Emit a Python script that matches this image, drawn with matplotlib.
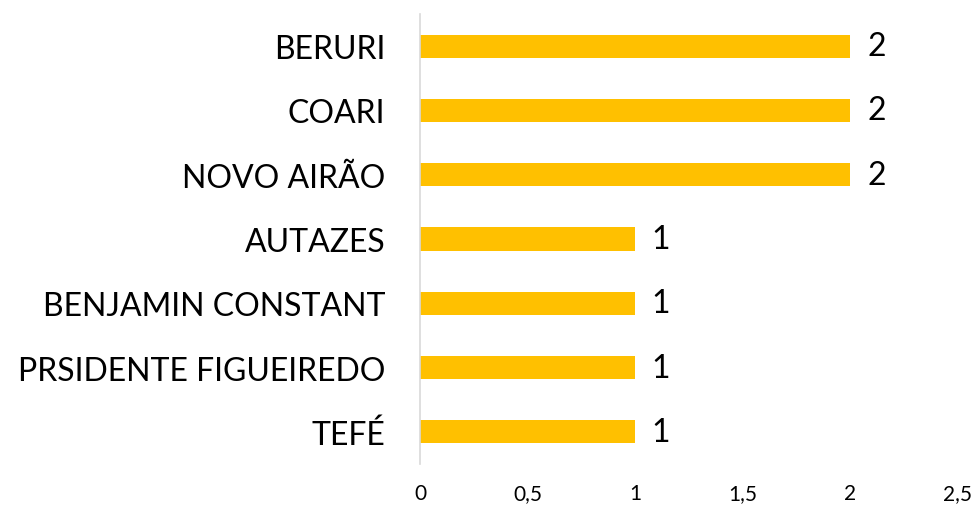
import matplotlib
matplotlib.use('Agg')
import matplotlib.pyplot as plt

# data (top to bottom)
cities = ['BERURI', 'COARI', 'NOVO AIRÃO', 'AUTAZES', 'BENJAMIN CONSTANT',
          'PRSIDENTE FIGUEIREDO', 'TEFÉ']
counts = [2, 2, 2, 1, 1, 1, 1]
xticks = [0, 0.5, 1, 1.5, 2, 2.5]
xtick_labels = ['0', '0,5', '1', '1,5', '2', '2,5']

plt.rcParams['font.family'] = ['Lato', 'DejaVu Sans']

fig = plt.figure(figsize=(9.76, 5.06), dpi=100)
ax = fig.add_axes([420 / 976, 1 - 465 / 506, 538 / 976, 450 / 506])

ypos = list(range(len(cities)))
ax.barh(ypos, counts, height=0.36, color='#FFC000')

for y, v in zip(ypos, counts):
    ax.annotate(str(v), (v, y), xytext=(12, 0), textcoords='offset points',
                va='center', ha='left', fontsize=23, color='black')

ax.set_xlim(0, 2.5)
ax.set_ylim(len(cities) - 0.5, -0.5)
ax.set_yticks(ypos)
ax.set_yticklabels(cities, fontsize=23)
ax.set_xticks(xticks)
ax.set_xticklabels(xtick_labels, fontsize=15)
ax.tick_params(axis='y', length=0, pad=25)
ax.tick_params(axis='x', length=0, pad=14)

for s in ['top', 'right', 'bottom']:
    ax.spines[s].set_visible(False)
ax.spines['left'].set_color('#d9d9d9')
ax.spines['left'].set_linewidth(1.2)

fig.savefig('out.png', dpi=100)
